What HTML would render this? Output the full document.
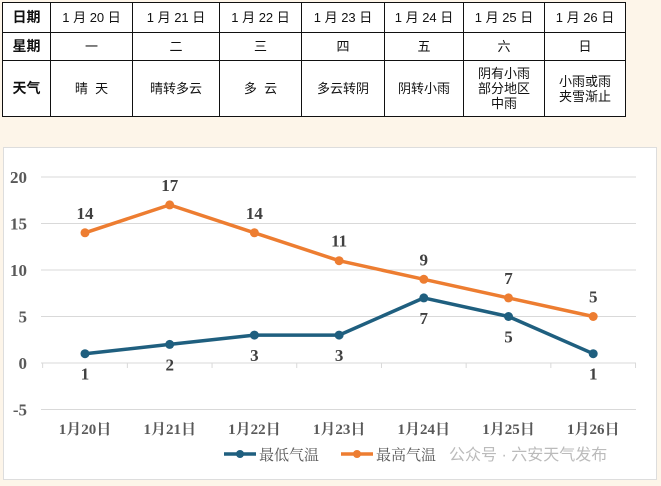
<!DOCTYPE html>
<html><head><meta charset="utf-8"><style>
body{margin:0;width:661px;height:486px;background:#fdf5e9;overflow:hidden;font-family:"Liberation Serif","Noto Serif CJK SC",serif;}
table{position:absolute;left:2px;top:2px;border-collapse:collapse;background:#fff;font-family:"Liberation Sans","Noto Sans CJK SC",sans-serif;font-size:13px;color:#111;}
td{border:1px solid #111;text-align:center;padding:0;line-height:15px;}
td.h{font-weight:bold;font-size:14px;}
#chart{position:absolute;left:3px;top:147px;width:652px;height:331px;background:#fff;border:1px solid #ddd;}
</style></head><body>
<table>
<colgroup><col style="width:48px"><col style="width:82px"><col style="width:87px"><col style="width:82px"><col style="width:83px"><col style="width:79px"><col style="width:81px"><col style="width:81px"></colgroup>
<tr style="height:30px"><td class="h">日期</td><td>1 月 20 日</td><td>1 月 21 日</td><td>1 月 22 日</td><td>1 月 23 日</td><td>1 月 24 日</td><td>1 月 25 日</td><td>1 月 26 日</td></tr>
<tr style="height:28px"><td class="h">星期</td><td>一</td><td>二</td><td>三</td><td>四</td><td>五</td><td>六</td><td>日</td></tr>
<tr style="height:56px"><td class="h">天气</td><td>晴&nbsp; 天</td><td>晴转多云</td><td>多&nbsp; 云</td><td>多云转阴</td><td>阴转小雨</td><td>阴有小雨<br>部分地区<br>中雨</td><td>小雨或雨<br>夹雪渐止</td></tr>
</table>
<svg id="chart" width="652" height="331" viewBox="3 147 652 331" style="position:absolute;left:3px;top:147px"></svg>
<script>
const categories=["1月20日","1月21日","1月22日","1月23日","1月24日","1月25日","1月26日"];
const lowTemps=[1,2,3,3,7,5,1];
const highTemps=[14,17,14,11,9,7,5];
const yTicks=[20,15,10,5,0,-5];
const seriesNames=["最低气温","最高气温"];
const NS="http://www.w3.org/2000/svg";
const svg=document.getElementById('chart');
const x=i=>84+i*84.7;
const y=v=>362-v*9.3;
function el(t,a,p){const e=document.createElementNS(NS,t);for(const k in a)e.setAttribute(k,a[k]);(p||svg).appendChild(e);return e;}
function txt(s,a){const e=el('text',a);e.textContent=s;return e;}
const bg=el('rect',{x:3,y:147,width:652,height:331,fill:'#fff'});


yTicks.forEach(v=>{
 const g=el('line',{x1:40,x2:635,y1:y(v),y2:y(v),stroke:'#d9d9d9','stroke-width':1});
 
 
 const t=txt(String(v),{x:26,y:y(v)+6,'text-anchor':'end','font-size':17,fill:'#595959','font-weight':'bold'});
 
 
});
for(let i=0;i<=categories.length;i++){
 const tk=el('line',{x1:x(i)-42.35,x2:x(i)-42.35,y1:y(0),y2:y(0)+5,stroke:'#d9d9d9'});
 
 
}
categories.forEach((c,i)=>{
 const t=txt(c,{x:x(i),y:433,'text-anchor':'middle','font-size':15,fill:'#595959','font-weight':'bold'});
 
 
});
function series(vals,color,name,above,lbl){
 const pl=el('polyline',{points:vals.map((v,i)=>x(i)+','+y(v)).join(' '),fill:'none',stroke:color,'stroke-width':3.5,'stroke-linejoin':'round'});
 
 
 vals.forEach((v,i)=>{
  const c=el('circle',{cx:x(i),cy:y(v),r:4.5,fill:color});
  
  
  const ab=above(i);
  const t=txt(String(v),{x:x(i),y:ab?y(v)-14:y(v)+26,'text-anchor':'middle','font-size':17,'font-weight':'bold',fill:'#404040'});
  
  
 });
}
series(highTemps,'#ed7d31','high-temp',()=>true,'high-temp-label');
series(lowTemps,'#1f5f7f','low-temp',()=>false,'low-temp-label');
const leg=[[223,'#1f5f7f'],[340,'#ed7d31']];
leg.forEach((l,k)=>{
 const ln=el('line',{x1:l[0],x2:l[0]+32,y1:453,y2:453,stroke:l[1],'stroke-width':3.5});
 
 
 const c=el('circle',{cx:l[0]+16,cy:453,r:4,fill:l[1]});
 
 
 const t=txt(seriesNames[k],{x:l[0]+35,y:459,'font-size':15,fill:'#595959'});
 
 
});
const wm=txt('公众号 · 六安天气发布',{x:448,y:459,'font-size':16,fill:'#bbb','font-family':'Liberation Sans, Noto Sans CJK SC, sans-serif'});


</script>
</body></html>
